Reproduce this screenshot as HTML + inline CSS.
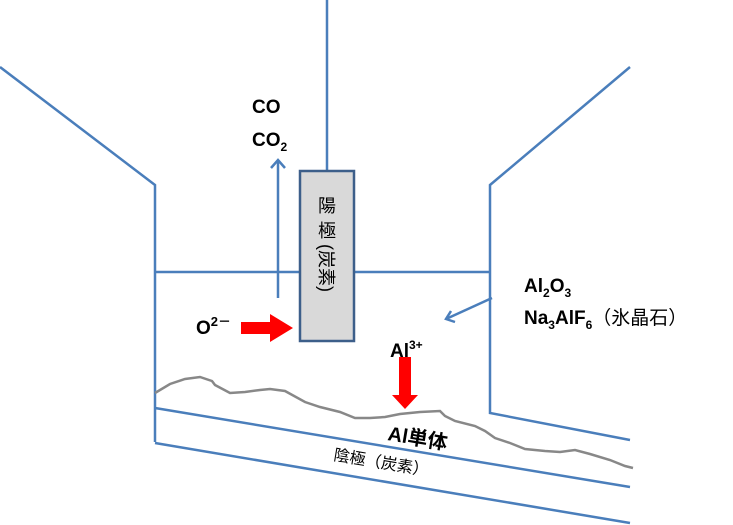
<html><body style="margin:0;background:#fff">
<svg width="733" height="525" viewBox="0 0 733 525" xmlns="http://www.w3.org/2000/svg" style="display:block;font-family:'Liberation Sans','Noto Sans CJK JP',sans-serif">
<g stroke="#4a7ebb" stroke-width="2.5" fill="none">
<polyline points="0,67 155,185 155,442"/>
<polyline points="630,67 490,185 490,413 630,440"/>
<line x1="155" y1="272" x2="490" y2="272"/>
<line x1="155" y1="408" x2="630" y2="487"/>
<line x1="155" y1="443" x2="630" y2="523"/>
<line x1="327" y1="0" x2="327" y2="170"/>
<line x1="278" y1="298" x2="278" y2="160"/>
<polyline points="271,168 278,160 285,168"/>
<line x1="492" y1="298" x2="446" y2="319"/>
<polyline points="451,311 446,319 455,322"/>
</g>
<rect x="300" y="171" width="54" height="170" fill="#d9d9d9" stroke="#3d5f8a" stroke-width="2.5"/>
<text font-size="18" fill="#000" text-anchor="middle"><tspan x="327" y="212">陽</tspan><tspan x="327" y="237">極</tspan></text>
<text font-size="18" transform="translate(320,244) rotate(90)">(炭素)</text>
<polyline points="155,393 170,384 185,379 200,377 212,381 215,385 230,393 245,392 260,390 270,389 285,391 305,402 320,407 340,412 355,418 370,418 385,417 400,414 420,412 440,411 445,416 455,421 475,426 485,431 495,438 510,443 525,449 545,451 560,452 575,450 590,454 610,460 625,466 633,468" fill="none" stroke="#888" stroke-width="2.5"/>
<polygon points="241,322 270,322 270,314 293,328 270,342 270,334 241,334" fill="#f00"/>
<polygon points="399,357 411,357 411,395 418,395 405,409 392,395 399,395" fill="#f00"/>
<g font-weight="bold" font-size="19" fill="#000">
<text x="252" y="113">CO</text>
<text x="252" y="146">CO<tspan font-size="12" dy="5">2</tspan></text>
<text x="196" y="334">O<tspan font-size="13" dy="-8">2－</tspan></text>
<text x="390" y="357">Al<tspan font-size="12" dy="-8">3+</tspan></text>
<text x="524" y="292">Al<tspan font-size="12" dy="5">2</tspan><tspan dy="-5">O</tspan><tspan font-size="12" dy="5">3</tspan></text>
<text x="524" y="324">Na<tspan font-size="12" dy="5">3</tspan><tspan dy="-5">AlF</tspan><tspan font-size="12" dy="5">6</tspan><tspan dy="-5" font-weight="normal">（氷晶石）</tspan></text>
<text x="387" y="440" font-size="20" transform="rotate(9.5 387 440)">Al単体</text>
</g>
<text x="333" y="460" font-size="16" transform="rotate(9.5 333 460)">陰極（炭素）</text>
</svg>
</body></html>
